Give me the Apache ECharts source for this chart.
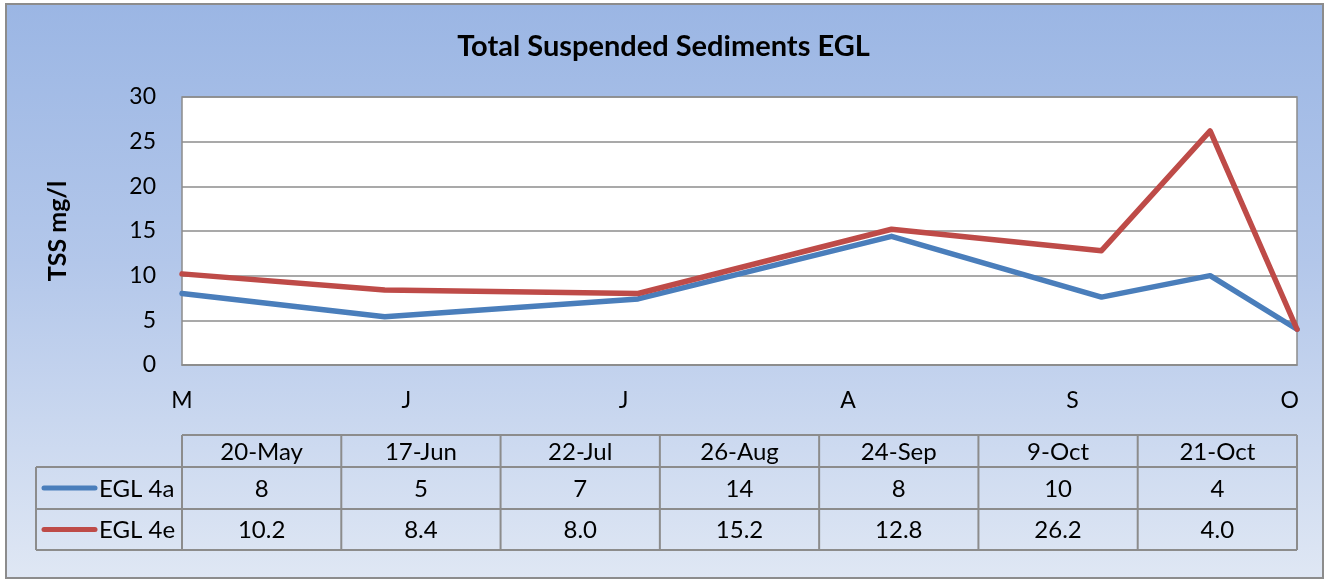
<!DOCTYPE html>
<html>
<head>
<meta charset="utf-8">
<script src="https://cdn.jsdelivr.net/npm/echarts@6/dist/echarts.min.js"></script>
<style>
html,body{margin:0;padding:0;background:#fff;}
#bg{position:absolute;left:5px;top:3px;width:1315px;height:572px;border:2px solid #8c8c8c;
background:linear-gradient(to bottom,#9bb6e4 0%,#b3c7ea 45%,#dfe7f4 100%);}
#chart{position:absolute;left:0;top:0;width:1327px;height:579px;}
</style>
</head>
<body>
<div id="bg"></div>
<div id="chart"></div>
<script>
// ---- data ----
const sampleDates = ['2010-05-20','2010-06-17','2010-07-22','2010-08-26','2010-09-24','2010-10-09','2010-10-21'];
const dateLabels = ['20-May','17-Jun','22-Jul','26-Aug','24-Sep','9-Oct','21-Oct'];
const seriesNames = ['EGL 4a','EGL 4e'];
const egl4a = [8.0, 5.4, 7.4, 14.4, 7.6, 10.0, 4.0];
const egl4e = [10.2, 8.4, 8.0, 15.2, 12.8, 26.2, 4.0];
const tableDecimals = [0, 1];
const monthTickDates = ['2010-05-20','2010-06-20','2010-07-20','2010-08-20','2010-09-20','2010-10-20'];
const monthLetters = ['J','F','M','A','M','J','J','A','S','O','N','D'];
const axisMinDate = '2010-05-20';
const axisMaxDate = '2010-10-21';
const yTicks = [0,5,10,15,20,25,30];

// ---- layout ----
const FONT = 'Lato';
const gridLeft = 182, gridRight = 1297, gridTop = 97, gridBottom = 365;
const colors = ['#4a7ebb', '#be4b48'];
const DAY = 86400000;
const toTs = s => { const p = s.split('-').map(Number); return Date.UTC(p[0], p[1]-1, p[2]); };
const t0 = toTs(axisMinDate);
const toDay = s => Math.round((toTs(s) - t0) / DAY);   // days since axis start

const chart = echarts.init(document.getElementById('chart'));

const valuesBySeries = [egl4a, egl4e];
const series = valuesBySeries.map((vals, i) => ({
  name: seriesNames[i],
  type: 'line',
  showSymbol: false,
  symbol: 'none',
  lineStyle: { width: 5.5, color: colors[i], cap: 'round', join: 'round' },
  itemStyle: { color: colors[i] },
  data: vals.map((v, j) => [toDay(sampleDates[j]), v]),
  z: 2 + i
}));

// ---- data table (graphic) ----
const rowY = [435, 467, 509, 550];
const legendLeft = 36;
const nCols = dateLabels.length;
const cw = (gridRight - gridLeft) / nCols;
const lineStyle = { stroke: '#8c8c8c', lineWidth: 2 };
const gfx = [];
gfx.push({ type: 'line', shape: { x1: gridLeft, y1: rowY[0], x2: gridRight, y2: rowY[0] }, style: lineStyle });
for (let r = 1; r < rowY.length; r++) {
  gfx.push({ type: 'line', shape: { x1: legendLeft, y1: rowY[r], x2: gridRight, y2: rowY[r] }, style: lineStyle });
}
gfx.push({ type: 'line', shape: { x1: legendLeft, y1: rowY[1], x2: legendLeft, y2: rowY[3] }, style: lineStyle });
for (let c = 0; c <= nCols; c++) {
  const x = gridLeft + c * cw;
  gfx.push({ type: 'line', shape: { x1: x, y1: rowY[0], x2: x, y2: rowY[3] }, style: lineStyle });
}
const cellText = (x, y, t, align) => ({
  type: 'text', x: x, y: y,
  style: { text: t, fill: '#000', font: '24px ' + FONT, align: align || 'center', verticalAlign: 'middle' }
});
dateLabels.forEach((d, c) => {
  gfx.push(cellText(gridLeft + (c + 0.5) * cw, (rowY[0] + rowY[1]) / 2 + 1, d));
});
valuesBySeries.forEach((vals, i) => {
  const yc = (rowY[i + 1] + rowY[i + 2]) / 2 + 1;
  gfx.push({ type: 'line', shape: { x1: 44, y1: yc - 1, x2: 95, y2: yc - 1 },
    style: { stroke: colors[i], lineWidth: 5, lineCap: 'round' } });
  gfx.push(cellText(99, yc, seriesNames[i], 'left'));
  vals.forEach((v, c) => {
    gfx.push(cellText(gridLeft + (c + 0.5) * cw, yc, v.toFixed(tableDecimals[i])));
  });
});

chart.setOption({
  backgroundColor: 'transparent',
  animation: false,
  title: {
    text: 'Total Suspended Sediments EGL',
    left: 'center',
    top: 27,
    textStyle: { fontFamily: FONT, fontSize: 29, fontWeight: 'bold', color: '#000' }
  },
  grid: {
    left: gridLeft, right: 1327 - gridRight, top: gridTop, bottom: 579 - gridBottom,
    show: true, backgroundColor: '#ffffff', borderColor: '#8c8c8c', borderWidth: 1.5,
    containLabel: false
  },
  xAxis: {
    type: 'value',
    min: 0,
    max: toDay(axisMaxDate),
    axisLine: { show: true, lineStyle: { color: '#8c8c8c', width: 1.5 } },
    axisTick: { show: false },
    splitLine: { show: false },
    axisLabel: {
      customValues: monthTickDates.map(toDay),
      formatter: v => monthLetters[new Date(t0 + v * DAY).getUTCMonth()],
      fontFamily: FONT, fontSize: 23, color: '#000', margin: 24,
      showMinLabel: true, showMaxLabel: true, hideOverlap: false
    }
  },
  yAxis: {
    type: 'value',
    min: yTicks[0], max: yTicks[yTicks.length - 1], interval: 5,
    name: 'TSS mg/l',
    nameLocation: 'middle',
    nameRotate: 90,
    nameGap: 112,
    nameTextStyle: { fontFamily: FONT, fontSize: 25, fontWeight: 'bold', color: '#000' },
    axisLine: { show: false },
    axisTick: { show: false },
    splitLine: { show: true, lineStyle: { color: '#8c8c8c', width: 1.5 } },
    axisLabel: { fontFamily: FONT, fontSize: 23, color: '#000', margin: 26 }
  },
  series: series,
  graphic: gfx
});
</script>
</body>
</html>
